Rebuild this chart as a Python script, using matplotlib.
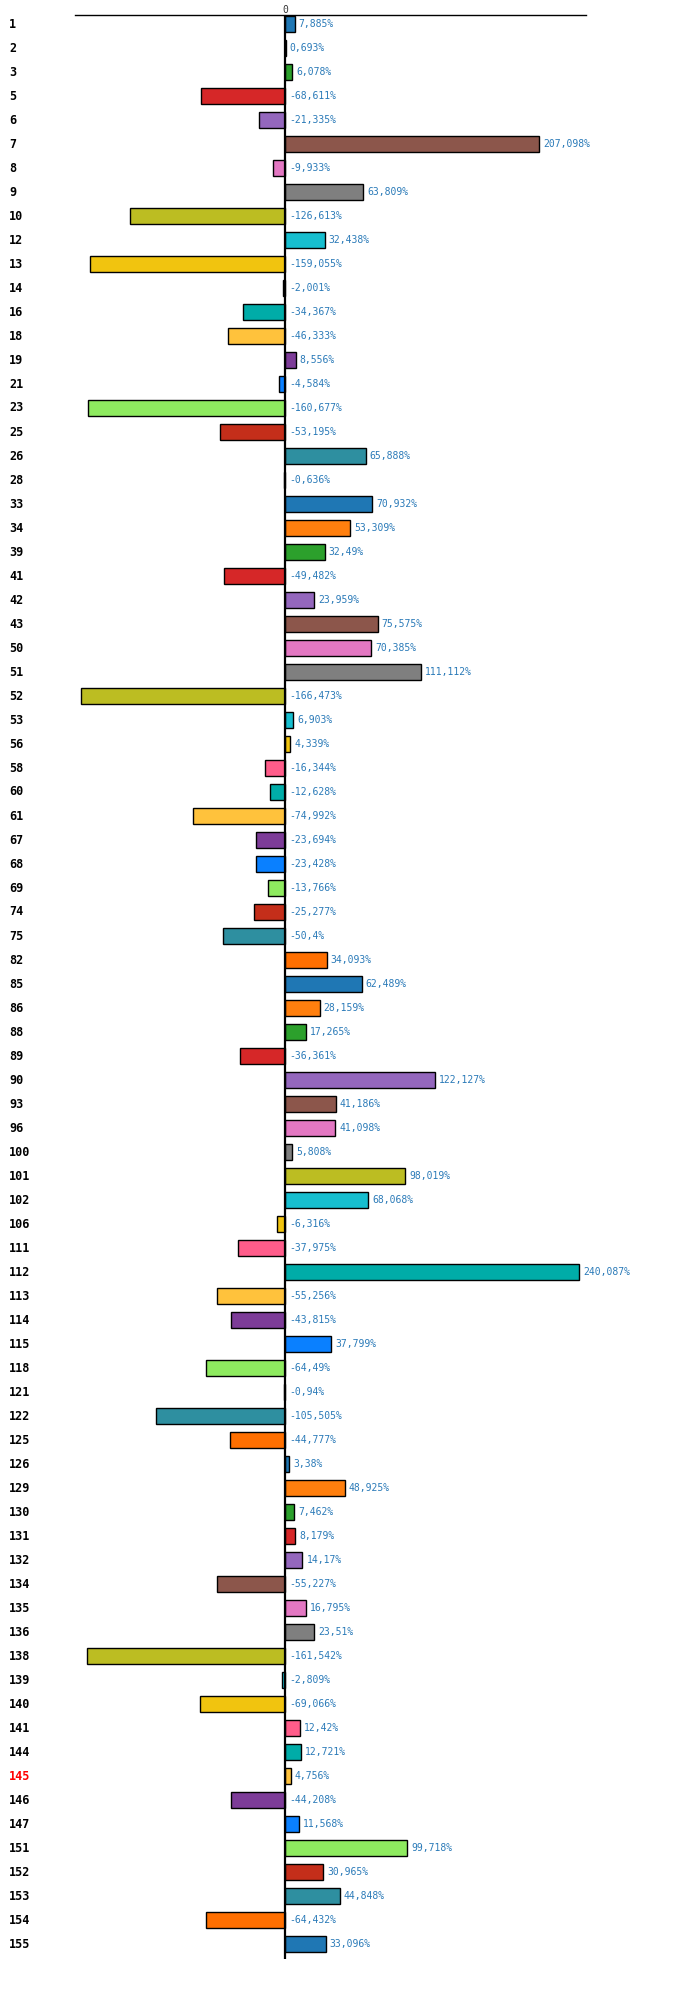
import matplotlib
matplotlib.use('Agg')
import matplotlib.pyplot as plt
import numpy as np

# category ids (top to bottom) and change in percent
categories = [1, 2, 3, 5, 6, 7, 8, 9, 10, 12,
              13, 14, 16, 18, 19, 21, 23, 25, 26, 28,
              33, 34, 39, 41, 42, 43, 50, 51, 52, 53,
              56, 58, 60, 61, 67, 68, 69, 74, 75, 82,
              85, 86, 88, 89, 90, 93, 96, 100, 101, 102,
              106, 111, 112, 113, 114, 115, 118, 121, 122, 125,
              126, 129, 130, 131, 132, 134, 135, 136, 138, 139,
              140, 141, 144, 145, 146, 147, 151, 152, 153, 154,
              155]
values = [7.885, 0.693, 6.078, -68.611, -21.335, 207.098, -9.933, 63.809, -126.613, 32.438,
          -159.055, -2.001, -34.367, -46.333, 8.556, -4.584, -160.677, -53.195, 65.888, -0.636,
          70.932, 53.309, 32.49, -49.482, 23.959, 75.575, 70.385, 111.112, -166.473, 6.903,
          4.339, -16.344, -12.628, -74.992, -23.694, -23.428, -13.766, -25.277, -50.4, 34.093,
          62.489, 28.159, 17.265, -36.361, 122.127, 41.186, 41.098, 5.808, 98.019, 68.068,
          -6.316, -37.975, 240.087, -55.256, -43.815, 37.799, -64.49, -0.94, -105.505, -44.777,
          3.38, 48.925, 7.462, 8.179, 14.17, -55.227, 16.795, 23.51, -161.542, -2.809,
          -69.066, 12.42, 12.721, 4.756, -44.208, 11.568, 99.718, 30.965, 44.848, -64.432,
          33.096]
highlight = [145]

palette = ['#1f77b4', '#ff7f0e', '#2ca02c', '#d62728', '#9467bd',
           '#8c564b', '#e377c2', '#7f7f7f', '#bcbd22', '#17becf',
           '#f1c40f', '#ff5c8a', '#00aca8', '#ffc23c', '#7d3c98',
           '#0a80ff', '#8eea5f', '#c42e1a', '#2e8fa0', '#ff6f00']


def fmt(v):
    s = f"{v:.3f}".rstrip('0').rstrip('.')
    return s.replace('.', ',') + '%'


W, H, dpi = 700, 1989, 100
fig = plt.figure(figsize=(W / dpi, H / dpi), dpi=dpi)
ax = fig.add_axes([75 / W, 1 - 1959 / H, (586 - 75) / W, (1959 - 15) / H])

n = len(categories)
y = np.arange(n)
colors = [palette[i % len(palette)] for i in range(n)]
ax.barh(y, values, height=0.64, color=colors, edgecolor='black', linewidth=1.0, zorder=2)

ax.set_xlim(-171.3, 245.5)
ax.set_ylim(n - 1 + 0.625, -0.375)
ax.axvline(0, color='black', linewidth=1.6, zorder=3)

for s in ['left', 'right', 'bottom']:
    ax.spines[s].set_visible(False)
ax.spines['top'].set_linewidth(1.0)
ax.set_xticks([])
ax.set_yticks([])

px = (245.5 + 171.3) / (586 - 75)  # data units per pixel
for yi, v in zip(y, values):
    ax.text(max(v, 0) + 4 * px, yi, fmt(v), ha='left', va='center',
            fontsize=7, family='DejaVu Sans Mono', color='#2a7ab8', zorder=4)

for yi, c in zip(y, categories):
    fig.text(9 / W, 1 - (24 + 24 * yi) / H, str(c), ha='left', va='center',
             fontsize=8.5, family='DejaVu Sans Mono', fontweight='bold',
             color='red' if c in highlight else 'black')

ax.text(0, -0.375, '0', ha='center', va='bottom', fontsize=7,
        family='DejaVu Sans Mono', color='#333333',
        transform=ax.transData)

fig.savefig('out.png', dpi=dpi)
